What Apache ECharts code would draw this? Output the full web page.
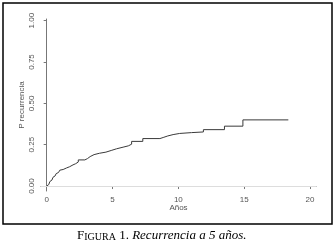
<!DOCTYPE html>
<html><head><meta charset="utf-8">
<script src="https://cdn.jsdelivr.net/npm/echarts@6/dist/echarts.min.js"></script>
<style>html,body{margin:0;padding:0;background:#fff}#c{width:336px;height:248px}</style>
</head><body><div id="c"></div>
<script>
const times = [0,0.08,0.16,0.24,0.32,0.4,0.48,0.56,0.64,0.72,0.8,0.9,1.0,1.12,1.25,1.38,1.5,1.62,1.75,1.88,2.0,2.2,2.4,2.9,3.1,3.3,3.6,4.0,4.5,4.9,5.3,5.8,6.2,6.45,7.3,8.6,8.9,9.2,9.6,10.1,11.0,11.9,13.5,14.9,18.35];
const recurrence = [0,0.009,0.018,0.027,0.036,0.045,0.053,0.061,0.068,0.075,0.082,0.089,0.096,0.1,0.105,0.109,0.113,0.117,0.122,0.128,0.135,0.145,0.158,0.166,0.178,0.19,0.198,0.205,0.215,0.225,0.235,0.243,0.253,0.27,0.287,0.295,0.303,0.311,0.318,0.323,0.327,0.341,0.362,0.40,0.40];
const xTicks = [0,5,10,15,20];
const yTicks = [0,0.25,0.5,0.75,1];
const yTickLabels = ['0.00','0.25','0.50','0.75','1.00'];

const chart = echarts.init(document.getElementById('c'));
chart.setOption({
  animation:false,
  grid:{left:41,right:20,top:19,bottom:57},
  xAxis:{type:'value',min:-0.43,max:20.45,
    name:'Años',nameLocation:'middle',nameGap:13,nameMoveOverlap:false,
    nameTextStyle:{fontFamily:'Liberation Sans',fontSize:8,color:'#555'},
    axisLine:{show:true,lineStyle:{color:'#777',width:1}},
    axisTick:{show:true,length:3,customValues:xTicks,lineStyle:{color:'#777'}},
    axisLabel:{customValues:xTicks,margin:5,fontFamily:'Liberation Sans',fontSize:8,color:'#555'},
    splitLine:{show:false}},
  yAxis:{type:'value',min:-0.03,max:1.01,
    name:'P recurrencia',nameLocation:'middle',nameGap:15,nameRotate:90,nameMoveOverlap:false,
    nameTextStyle:{fontFamily:'Liberation Sans',fontSize:8,color:'#555'},
    axisLine:{show:true,lineStyle:{color:'#777',width:1}},
    axisTick:{show:true,length:3,customValues:yTicks,lineStyle:{color:'#777'}},
    axisLabel:{customValues:yTicks,rotate:90,margin:5,fontFamily:'Liberation Sans',fontSize:8,color:'#555',
      formatter:v=>yTickLabels[yTicks.indexOf(Math.round(v*100)/100)] ?? v.toFixed(2)},
    splitLine:{show:false}},
  series:[{type:'line',step:'end',showSymbol:false,
    data:times.map((t,i)=>[t,recurrence[i]]),
    lineStyle:{color:'#3a3a3a',width:1},
    markLine:{silent:true,symbol:'none',label:{show:false},
      lineStyle:{color:'#ddd',width:1,type:'solid'},data:[{yAxis:0}]}}],
  graphic:[
    {type:'rect',shape:{x:3,y:3,width:329,height:221},style:{fill:'none',stroke:'#000',lineWidth:1.5}},
    {type:'text',left:77,top:229,style:{
      text:'{a|F}{b|IGURA}{a| 1. }{c|Recurrencia a 5 años.}',
      rich:{a:{fontFamily:'Liberation Serif',fontSize:13,fill:'#000',verticalAlign:'bottom'},
            b:{fontFamily:'Liberation Serif',fontSize:10,fill:'#000',verticalAlign:'bottom'},
            c:{fontFamily:'Liberation Serif',fontSize:13,fontStyle:'italic',fill:'#000',verticalAlign:'bottom'}}}}
  ]
});
</script></body></html>
